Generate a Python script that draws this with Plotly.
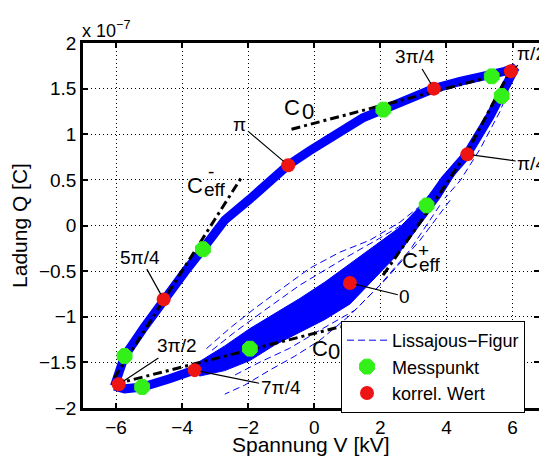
import plotly.graph_objects as go

# ---------------- data (V in kV, Q in 1e-7 C) ----------------
# mean Lissajous loop, upper branch (bottom-left -> top-right)
upper_v = [-6.05, -5.95, -5.74, -5.14, -4.56, -3.92, -3.38, -2.71, -1.95, -1.35, -0.80,
           -0.14, 0.47, 1.47, 2.08, 2.68, 3.62, 4.41, 5.02, 5.38, 5.77, 6.08]
upper_q = [-1.76, -1.64, -1.43, -1.11, -0.81, -0.51, -0.26, 0.06, 0.29, 0.50, 0.66,
           0.82, 0.96, 1.18, 1.27, 1.37, 1.50, 1.58, 1.63, 1.64, 1.69, 1.73]
# lower branch (top-right -> bottom-left)
lower_v = [6.08, 5.77, 5.32, 4.62, 3.95, 3.41, 2.59, 1.83, 1.08, 0.32, -0.44, -1.20,
           -1.95, -2.80, -3.62, -4.38, -5.20, -5.74, -6.05]
lower_q = [1.73, 1.50, 1.20, 0.78, 0.50, 0.22, -0.16, -0.40, -0.63, -0.84, -1.04, -1.20,
           -1.34, -1.48, -1.59, -1.68, -1.77, -1.79, -1.76]
# dense scatter band of the individual cycles on the lower branch
band_v = [4.30, 3.80, 3.20, 2.59, 1.83, 1.08, 0.32, -0.44, -1.20, -1.95, -2.71, -3.47]
band_q_top = [0.71, 0.48, 0.21, -0.02, -0.22, -0.42, -0.62, -0.80, -0.97, -1.13, -1.32, -1.49]
band_q_bot = [0.59, 0.30, 0.01, -0.29, -0.58, -0.86, -1.03, -1.17, -1.31, -1.48, -1.59, -1.65]
# a few individual (outlying) cycles
cyc_a_v = [3.50, 2.59, 1.68, 0.77, -0.14, -1.05, -1.80, -2.56, -3.32]
cyc_a_q = [0.30, 0.036, -0.161, -0.293, -0.469, -0.710, -0.907, -1.126, -1.367]
cyc_b_v = [3.20, 1.98, 0.92, -0.44, -1.50, -2.41, -3.17]
cyc_b_q = [0.126, -0.139, -0.358, -0.654, -0.928, -1.169, -1.388]
cyc_c_v = [3.80, 2.89, 1.98, 1.08, 0.17, -0.59, -1.35, -2.11, -2.71]
cyc_c_q = [0.222, -0.271, -0.654, -0.983, -1.257, -1.432, -1.585, -1.750, -1.848]
cyc_d_v = [4.11, 3.20, 2.14, 1.23, 0.17, -0.74, -1.65, -2.41]
cyc_d_q = [0.277, -0.161, -0.599, -0.928, -1.147, -1.344, -1.498, -1.640]
cyc_e_v = [6.08, 5.47, 4.86, 4.26, 3.65]
cyc_e_q = [1.70, 1.31, 0.93, 0.60, 0.27]
cyc_f_v = [6.12, 5.62, 5.02, 4.41, 3.95]
cyc_f_q = [1.70, 1.25, 0.84, 0.49, 0.30]

# capacitance lines (dash-dot)
ceff_minus_v = [-6.05, -2.20]
ceff_minus_q = [-1.67, 0.53]
c0_upper_v = [-0.69, 5.86]
c0_upper_q = [1.055, 1.68]
ceff_plus_v = [2.08, 3.52, 4.62, 5.92]
ceff_plus_q = [-0.545, 0.20, 0.80, 1.69]
c0_lower_v = [-6.05, 0.80]
c0_lower_q = [-1.74, -1.108]

# measured points
mess_v = [5.37, 5.67, 3.40, 2.09, -3.37, -5.74, -5.21, -1.95]
mess_q = [1.635, 1.42, 0.22, 1.27, -0.26, -1.43, -1.77, -1.35]

# correlated values (phase angles)
korr_labels = ["π/2", "3π/4", "π", "5π/4", "3π/2", "7π/4", "0", "π/4"]
korr_v = [5.95, 3.62, -0.79, -4.56, -5.92, -3.62, 1.08, 4.63]
korr_q = [1.69, 1.50, 0.66, -0.81, -1.74, -1.585, -0.63, 0.78]

x_ticks = [-6, -4, -2, 0, 2, 4, 6]
y_ticks = [-2, -1.5, -1, -0.5, 0, 0.5, 1, 1.5, 2]

# ---------------- layout helpers ----------------
label_pos = {  # text centre of each phase label
    "π/2": (6.58, 1.888), "3π/4": (3.045, 1.847), "π": (-2.25, 1.109),
    "5π/4": (-5.27, -0.347), "3π/2": (-4.17, -1.32), "7π/4": (-1.02, -1.777),
    "0": (2.74, -0.778), "π/4": (6.58, 0.683),
}
FONT = "Liberation Sans, Arial, sans-serif"
BLUE = "#0000ff"
DASHDOT = "9px,4px,3px,4px"

fig = go.Figure()

# dense band of cycles
fig.add_trace(go.Scatter(
    x=band_v + band_v[::-1], y=band_q_top + band_q_bot[::-1],
    mode="lines", fill="toself", fillcolor=BLUE, line=dict(color=BLUE, width=1),
    showlegend=False, hoverinfo="skip"))
# mean loop drawn thick
fig.add_trace(go.Scatter(
    x=upper_v + lower_v, y=upper_q + lower_q, mode="lines",
    line=dict(color=BLUE, width=9), showlegend=False, hoverinfo="skip"))
# individual cycles (dashed)
first = True
for cv, cq in [(cyc_a_v, cyc_a_q), (cyc_b_v, cyc_b_q), (cyc_c_v, cyc_c_q),
               (cyc_d_v, cyc_d_q), (cyc_e_v, cyc_e_q), (cyc_f_v, cyc_f_q)]:
    fig.add_trace(go.Scatter(
        x=cv, y=cq, mode="lines", name="Lissajous−Figur",
        line=dict(color=BLUE, width=1, dash="7px,4px"),
        showlegend=first, legendrank=1))
    first = False

# capacitance lines
for lv, lq in [(ceff_minus_v, ceff_minus_q), (c0_upper_v, c0_upper_q),
               (ceff_plus_v, ceff_plus_q), (c0_lower_v, c0_lower_q)]:
    fig.add_trace(go.Scatter(x=lv, y=lq, mode="lines",
                             line=dict(color="black", width=3, dash=DASHDOT),
                             showlegend=False, hoverinfo="skip"))

fig.add_trace(go.Scatter(
    x=mess_v, y=mess_q, mode="markers", name="Messpunkt",
    marker=dict(symbol="octagon", size=16, color="#33f018",
                line=dict(color="#33f018", width=1)), legendrank=2))
fig.add_trace(go.Scatter(
    x=korr_v, y=korr_q, mode="markers", name="korrel. Wert",
    marker=dict(symbol="circle", size=14, color="#ee1414",
                line=dict(color="#ee1414", width=0)), legendrank=3))

annotations = []
for lab, v, q in zip(korr_labels, korr_v, korr_q):
    tx, ty = label_pos[lab]
    annotations.append(dict(
        x=v, y=q, ax=tx, ay=ty, axref="x", ayref="y", xref="x", yref="y",
        text=lab, showarrow=True, arrowhead=0, arrowwidth=1.2, arrowcolor="black",
        standoff=6, font=dict(size=19, color="black", family=FONT)))


def txt(x, y, s, size):
    annotations.append(dict(x=x, y=y, xref="x", yref="y", text=s, showarrow=False,
                            font=dict(size=size, color="black", family=FONT)))


txt(-0.667, 1.295, "C", 22)
txt(-0.197, 1.253, "0", 22)
txt(0.18, -1.344, "C", 22)
txt(0.59, -1.377, "0", 22)
txt(-3.61, 0.441, "C", 22)
txt(-3.02, 0.392, "eff", 19)
txt(-3.115, 0.587, "-", 19)
txt(2.89, -0.380, "C", 22)
txt(3.50, -0.429, "eff", 19)
txt(3.29, -0.272, "+", 19)

annotations.append(dict(
    x=0, y=1, xref="paper", yref="paper", xanchor="left", yanchor="bottom",
    xshift=-3, yshift=0, text="x 10<sup>−7</sup>", showarrow=False,
    font=dict(size=18, color="black", family=FONT)))
# x-axis title (placed as text below the tick labels, partly cut by the page edge)
annotations.append(dict(
    x=0.5, y=0, xref="paper", yref="paper", xanchor="center", yanchor="top",
    yshift=-23, text="Spannung V [kV]", showarrow=False,
    font=dict(size=21, color="black", family=FONT)))

axis_common = dict(
    showline=True, linewidth=2.5, linecolor="black", mirror="ticks",
    ticks="inside", ticklen=5, tickwidth=1.5, tickcolor="black",
    showgrid=True, gridcolor="black", gridwidth=1, griddash="1px,3px",
    zeroline=False, tickfont=dict(size=19, color="black", family=FONT),
)

fig.update_layout(
    width=539, height=456,
    margin=dict(l=83, r=0, t=43, b=48, autoexpand=False),
    paper_bgcolor="white", plot_bgcolor="white",
    font=dict(family=FONT, color="black"),
    showlegend=True,
    legend=dict(x=(341 - 83) / 456, y=(408 - 321) / 365, xanchor="left", yanchor="top",
                bgcolor="white", bordercolor="black", borderwidth=1,
                font=dict(size=18, color="black", family=FONT),
                itemwidth=40, tracegroupgap=0),
    annotations=annotations,
    xaxis=dict(range=[-7, 6.8], tickvals=x_ticks, **axis_common),
    yaxis=dict(range=[-2, 2], tickvals=y_ticks,
               title=dict(text="Ladung Q [C]", font=dict(size=21), standoff=6),
               **axis_common),
)

fig.write_html("out.html")
